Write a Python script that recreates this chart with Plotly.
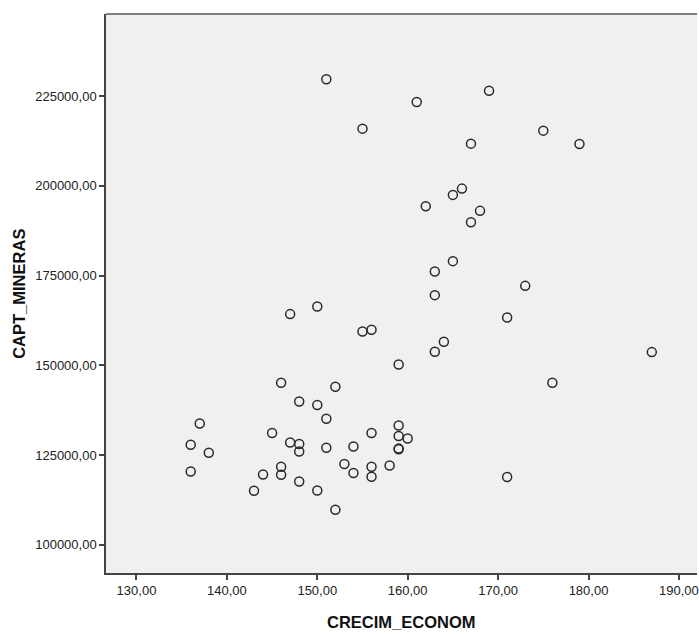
import plotly.graph_objects as go

crecim_econom = [151, 161, 169, 155, 175, 179, 167, 166, 165, 162,
                 168, 167, 165, 163, 163, 173, 147, 150, 155, 156,
                 171, 159, 164, 163, 187, 176, 146, 152, 148, 150,
                 151, 137, 145, 156, 159, 147, 148, 148, 151, 154,
                 136, 138, 159, 160, 159, 159, 153, 154, 156, 156,
                 158, 146, 146, 144, 136, 148, 143, 150, 152, 171]
capt_mineras = [229650, 223330, 226470, 215900, 215340, 211640, 211720, 199200, 197450, 194300,
                193000, 189850, 179000, 176100, 169530, 172120, 164250, 166360, 159400, 159880,
                163300, 150220, 156540, 153750, 153670, 145130, 145130, 144020, 139920, 138920,
                135110, 133800, 131130, 131130, 133240, 128510, 128070, 126010, 127040, 127400,
                127870, 125650, 130300, 129630, 126600, 126800, 122500, 120000, 121750, 118970,
                122110, 121750, 119520, 119610, 120440, 117660, 115070, 115150, 109780, 118880]

x_tick_vals = [130, 140, 150, 160, 170, 180, 190]
x_tick_text = ["130,00", "140,00", "150,00", "160,00", "170,00", "180,00", "190,00"]
y_tick_vals = [100000, 125000, 150000, 175000, 200000, 225000]
y_tick_text = ["100000,00", "125000,00", "150000,00", "175000,00", "200000,00", "225000,00"]

x_title = "CRECIM_ECONOM"
y_title = "CAPT_MINERAS"

FONT = "Liberation Sans, Arial, sans-serif"

fig = go.Figure()
fig.add_trace(go.Scatter(
    x=crecim_econom, y=capt_mineras, mode="markers",
    marker=dict(symbol="circle-open", size=9, color="#2a2a2a", line=dict(width=1.5, color="#2a2a2a")),
    hoverinfo="x+y", showlegend=False,
))

axis_common = dict(
    showgrid=False, zeroline=False, showline=True, linecolor="#444444", linewidth=1.5,
    ticks="outside", ticklen=5, tickwidth=1.5, tickcolor="#444444",
    ticklabeloverflow="allow",
    tickfont=dict(family=FONT, size=13, color="#222222"),
)

fig.update_layout(
    width=699, height=634,
    margin=dict(l=106, r=0, t=14, b=61),
    paper_bgcolor="white", plot_bgcolor="#F0F0F0",
    xaxis=dict(range=[126.63, 192.0], tickvals=x_tick_vals, ticktext=x_tick_text, **axis_common),
    yaxis=dict(range=[92158, 247822], tickvals=y_tick_vals, ticktext=y_tick_text, **axis_common),
    shapes=[dict(type="line", xref="paper", yref="paper", x0=0, x1=1, y0=1, y1=1,
                 line=dict(color="#808080", width=2))],
    annotations=[
        dict(text=x_title, xref="paper", yref="paper", x=0.5, y=-0.0877, xanchor="center", yanchor="middle",
             showarrow=False, font=dict(family=FONT, size=16.5, color="#111111", weight="bold")),
        dict(text=y_title, xref="paper", yref="paper", x=(18 - 106) / 593, y=0.5, xanchor="center", yanchor="middle",
             textangle=-90, showarrow=False, font=dict(family=FONT, size=16.5, color="#111111", weight="bold")),
    ],
)

fig.write_html("out.html", config={"displayModeBar": False},
               post_script="document.body.style.margin='0';document.body.style.overflow='hidden';")
